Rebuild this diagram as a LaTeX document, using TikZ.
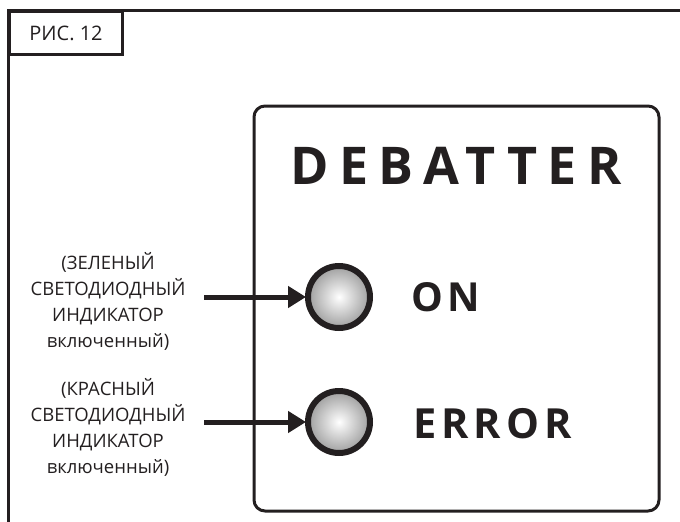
\documentclass[tikz,border=0pt]{standalone}
\usepackage{fontspec}
\setmainfont{Open Sans}
\newfontfamily\titlefont[LetterSpace=20]{Open Sans Bold}
\newfontfamily\labelfont[LetterSpace=12]{Open Sans Bold}
\usetikzlibrary{arrows.meta}
\definecolor{ink}{HTML}{231F20}
\tikzset{
  frameline/.style={line width=3pt, draw=ink},
  led/.style={circle, draw=ink, line width=6pt, minimum size=62pt, inner sep=0pt,
    inner color=white, outer color=black!38},
  ptr/.style={line width=5pt, draw=ink, -{Triangle[length=18pt,width=21pt]}, shorten >=-1pt},
  lbl/.style={align=center, font=\fontsize{18.5}{26}\selectfont, text=ink, inner sep=0pt},
  big/.style={text=ink, inner sep=0pt}
}
\begin{document}
\begin{tikzpicture}[x=1pt,y=-1pt]
\useasboundingbox (0,0) rectangle (680,522);
% outer frame
\draw[frameline] (8,530) -- (8,10) -- (690,10);
\node[draw=ink, line width=3pt, minimum width=113pt, minimum height=43pt, anchor=north west,
  font=\fontsize{20}{24}\selectfont, text=ink, inner sep=0pt] (fig) at (8,10) {РИС. 12};
% panel
\draw[frameline, rounded corners=11pt] (254,106) rectangle (659,511);
\node[big, font=\titlefont\fontsize{52}{60}\selectfont] (title) at (456,166) {DEBATTER};
% LEDs
\node[led] (led1) at (339,297) {};
\node[led] (led2) at (339,422) {};
\node[big, font=\labelfont\fontsize{40}{48}\selectfont, anchor=west] (on) at (411,297) {ON};
\node[big, font=\labelfont\fontsize{41.5}{48}\selectfont, anchor=west] (err) at (413,424) {ERROR};
% labels
\node[lbl] (t1) at (108,301) {(ЗЕЛЕНЫЙ\\СВЕТОДИОДНЫЙ\\ИНДИКАТОР\\включенный)};
\node[lbl] (t2) at (108,427) {(КРАСНЫЙ\\СВЕТОДИОДНЫЙ\\ИНДИКАТОР\\включенный)};
\coordinate (a1) at (204,297);
\coordinate (a2) at (204,422);
\draw[ptr] (a1) -- (led1.west);
\draw[ptr] (a2) -- (led2.west);
\end{tikzpicture}
\end{document}
